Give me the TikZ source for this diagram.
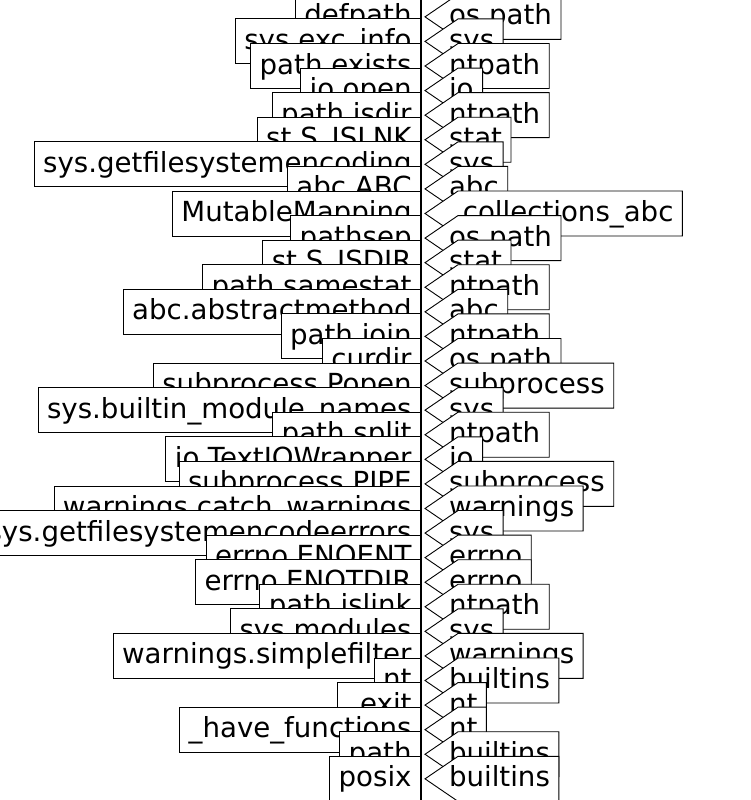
\documentclass[tikz,border=0pt]{standalone}
\usepackage{fontspec}
\setmainfont{DejaVu Sans}
\usetikzlibrary{shapes.symbols}

\begin{document}
\begin{tikzpicture}[x=1pt,y=-1pt,line width=0.9pt,
  lbl/.style={draw=black,fill=white,rectangle,anchor=east,minimum height=45pt,inner xsep=9pt,inner ysep=0pt,text height=22pt,text depth=6pt,font=\fontsize{27.65}{33}\selectfont},
  mdl/.style={draw=black,fill=white,signal,signal to=west,signal pointer angle=68.6,anchor=text,minimum height=45pt,inner xsep=9pt,inner ysep=0pt,text height=22pt,text depth=6pt,font=\fontsize{27.65}{33}\selectfont,execute at begin node={\kern-18pt}}]
\useasboundingbox (0,0) rectangle (750,800);
\clip (0,0) rectangle (750,800);
\node[lbl] (l1) at (421,16.86) {defpath};
\node[mdl] (m1) at (467,24.86) {os.path};
\node[lbl] (l2) at (421,41.44) {sys.exc\_info};
\node[mdl] (m2) at (467,49.44) {sys};
\node[lbl] (l3) at (421,66.02) {path.exists};
\node[mdl] (m3) at (467,74.02) {ntpath};
\node[lbl] (l4) at (421,90.60) {io.open};
\node[mdl] (m4) at (467,98.60) {io};
\node[lbl] (l5) at (421,115.18) {path.isdir};
\node[mdl] (m5) at (467,123.18) {ntpath};
\node[lbl] (l6) at (421,139.76) {st.S\_ISLNK};
\node[mdl] (m6) at (467,147.76) {stat};
\node[lbl] (l7) at (421,164.34) {sys.getfilesystemencoding};
\node[mdl] (m7) at (467,172.34) {sys};
\node[lbl] (l8) at (421,188.92) {abc.ABC};
\node[mdl] (m8) at (467,196.92) {abc};
\node[lbl] (l9) at (421,213.50) {MutableMapping};
\node[mdl] (m9) at (467,221.50) {\_collections\_abc};
\node[lbl] (l10) at (421,238.08) {pathsep};
\node[mdl] (m10) at (467,246.08) {os.path};
\node[lbl] (l11) at (421,262.66) {st.S\_ISDIR};
\node[mdl] (m11) at (467,270.66) {stat};
\node[lbl] (l12) at (421,287.24) {path.samestat};
\node[mdl] (m12) at (467,295.24) {ntpath};
\node[lbl] (l13) at (421,311.82) {abc.abstractmethod};
\node[mdl] (m13) at (467,319.82) {abc};
\node[lbl] (l14) at (421,336.40) {path.join};
\node[mdl] (m14) at (467,344.40) {ntpath};
\node[lbl] (l15) at (421,360.98) {curdir};
\node[mdl] (m15) at (467,368.98) {os.path};
\node[lbl] (l16) at (421,385.56) {subprocess.Popen};
\node[mdl] (m16) at (467,393.56) {subprocess};
\node[lbl] (l17) at (421,410.14) {sys.builtin\_module\_names};
\node[mdl] (m17) at (467,418.14) {sys};
\node[lbl] (l18) at (421,434.72) {path.split};
\node[mdl] (m18) at (467,442.72) {ntpath};
\node[lbl] (l19) at (421,459.30) {io.TextIOWrapper};
\node[mdl] (m19) at (467,467.30) {io};
\node[lbl] (l20) at (421,483.88) {subprocess.PIPE};
\node[mdl] (m20) at (467,491.88) {subprocess};
\node[lbl] (l21) at (421,508.46) {warnings.catch\_warnings};
\node[mdl] (m21) at (467,516.46) {warnings};
\node[lbl] (l22) at (421,533.04) {sys.getfilesystemencodeerrors};
\node[mdl] (m22) at (467,541.04) {sys};
\node[lbl] (l23) at (421,557.62) {errno.ENOENT};
\node[mdl] (m23) at (467,565.62) {errno};
\node[lbl] (l24) at (421,582.20) {errno.ENOTDIR};
\node[mdl] (m24) at (467,590.20) {errno};
\node[lbl] (l25) at (421,606.78) {path.islink};
\node[mdl] (m25) at (467,614.78) {ntpath};
\node[lbl] (l26) at (421,631.36) {sys.modules};
\node[mdl] (m26) at (467,639.36) {sys};
\node[lbl] (l27) at (421,655.94) {warnings.simplefilter};
\node[mdl] (m27) at (467,663.94) {warnings};
\node[lbl] (l28) at (421,680.52) {nt};
\node[mdl] (m28) at (467,688.52) {builtins};
\node[lbl] (l29) at (421,705.10) {\_exit};
\node[mdl] (m29) at (467,713.10) {nt};
\node[lbl] (l30) at (421,729.68) {\_have\_functions};
\node[mdl] (m30) at (467,737.68) {nt};
\node[lbl] (l31) at (421,754.26) {path};
\node[mdl] (m31) at (467,762.26) {builtins};
\node[lbl] (l32) at (421,778.84) {posix};
\node[mdl] (m32) at (467,786.84) {builtins};
\coordinate (top) at (421,0);
\coordinate (bot) at (421,800);
\draw (top) -- (bot);
\end{tikzpicture}
\end{document}
